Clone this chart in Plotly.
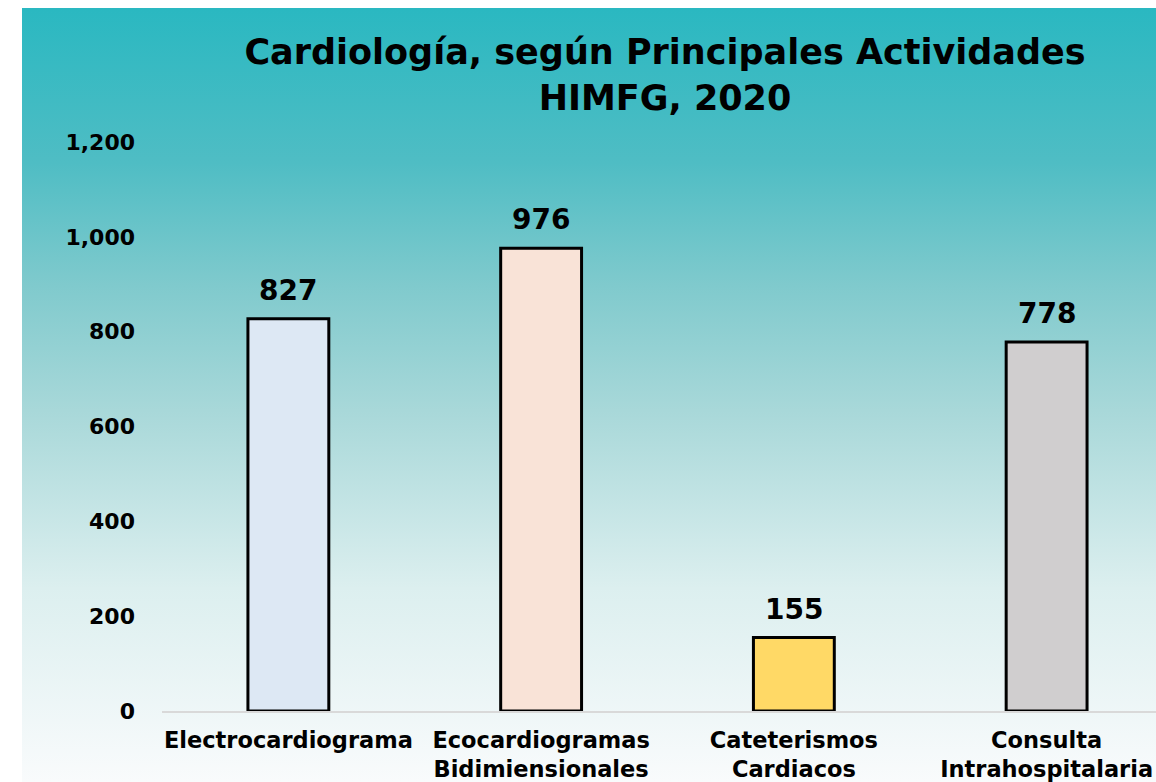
import base64
import plotly.graph_objects as go

# ---- data ----
categories = ["Electrocardiograma", "Ecocardiogramas<br>Bidimiensionales",
              "Cateterismos<br>Cardiacos", "Consulta<br>Intrahospitalaria"]
values = [827, 976, 155, 778]
bar_colors = ["#dde8f4", "#f9e3d7", "#ffd966", "#d0cecf"]
y_ticks = [0, 200, 400, 600, 800, 1000, 1200]
y_tick_labels = ["0", "200", "400", "600", "800", "1,000", "1,200"]
title_text = "Cardiología, según Principales Actividades<br>HIMFG, 2020"

W, H = 1156, 782
ML, MR, MT, MB = 162, 0, 142, 71
FONT = "DejaVu Sans"

x_idx = list(range(len(categories)))

fig = go.Figure()
fig.add_trace(go.Bar(
    x=x_idx, y=values, width=0.32,
    marker=dict(color=bar_colors, line=dict(color="black", width=3)),
    hoverinfo="skip", showlegend=False,
))

# value labels
for xi, v in zip(x_idx, values):
    fig.add_annotation(x=xi, y=v, text=f"<b>{v:,}</b>", showarrow=False,
                       yanchor="bottom", yshift=10,
                       font=dict(family=FONT, size=28, color="black"))

# gradient background (SVG image)
svg = '''<svg xmlns="http://www.w3.org/2000/svg" width="1134" height="774" preserveAspectRatio="none">
<defs><linearGradient id="g" x1="0" y1="0" x2="0" y2="1">
<stop offset="0" stop-color="#2ab8c1"/>
<stop offset="0.2" stop-color="#4fbdc4"/>
<stop offset="0.36" stop-color="#80cacd"/>
<stop offset="0.52" stop-color="#a8d8d9"/>
<stop offset="0.75" stop-color="#dcefef"/>
<stop offset="1" stop-color="#f9fbfc"/>
</linearGradient></defs>
<rect x="0" y="0" width="1134" height="774" fill="url(#g)"/></svg>'''
uri = "data:image/svg+xml;base64," + base64.b64encode(svg.encode()).decode()

pw = W - ML - MR
ph = H - MT - MB
bx0, by0 = 22, 8
fig.add_layout_image(dict(
    source=uri, xref="paper", yref="paper",
    x=(bx0 - ML) / pw, y=(H - MB - by0) / ph,
    sizex=(W - bx0) / pw, sizey=(H - by0) / ph,
    xanchor="left", yanchor="top", sizing="stretch", layer="below",
))

fig.update_layout(
    width=W, height=H,
    margin=dict(l=ML, r=MR, t=MT, b=MB, pad=0),
    paper_bgcolor="white", plot_bgcolor="rgba(0,0,0,0)",
    font=dict(family=FONT, color="black"),
    title=dict(text=f"<b>{title_text}</b>", x=665 / W, xanchor="center",
               xref="container", yref="container", y=1 - 64 / H, yanchor="top",
               font=dict(family=FONT, size=35, color="black")),
    bargap=0.68,
)
fig.update_xaxes(
    tickmode="array", tickvals=x_idx,
    ticktext=[f"<b>{c}</b>" for c in categories],
    range=[-0.5, 3.5 - 17 / 253], showline=True, linecolor="#d9d9d9", linewidth=2,
    showgrid=False, zeroline=False, ticks="", ticklabelstandoff=8,
    tickfont=dict(family=FONT, size=22.5, color="black"),
)
fig.update_yaxes(
    tickmode="array", tickvals=y_ticks,
    ticktext=[f"<b>{t}</b>" for t in y_tick_labels],
    range=[0, 1200], showgrid=False, zeroline=False, showline=False, ticks="",
    ticklabelstandoff=26,
    tickfont=dict(family=FONT, size=22, color="black"),
)

fig.write_html("out.html",
               config={"displayModeBar": False},
               post_script="document.body.style.margin='0';"
                           "document.documentElement.style.overflow='hidden';")
